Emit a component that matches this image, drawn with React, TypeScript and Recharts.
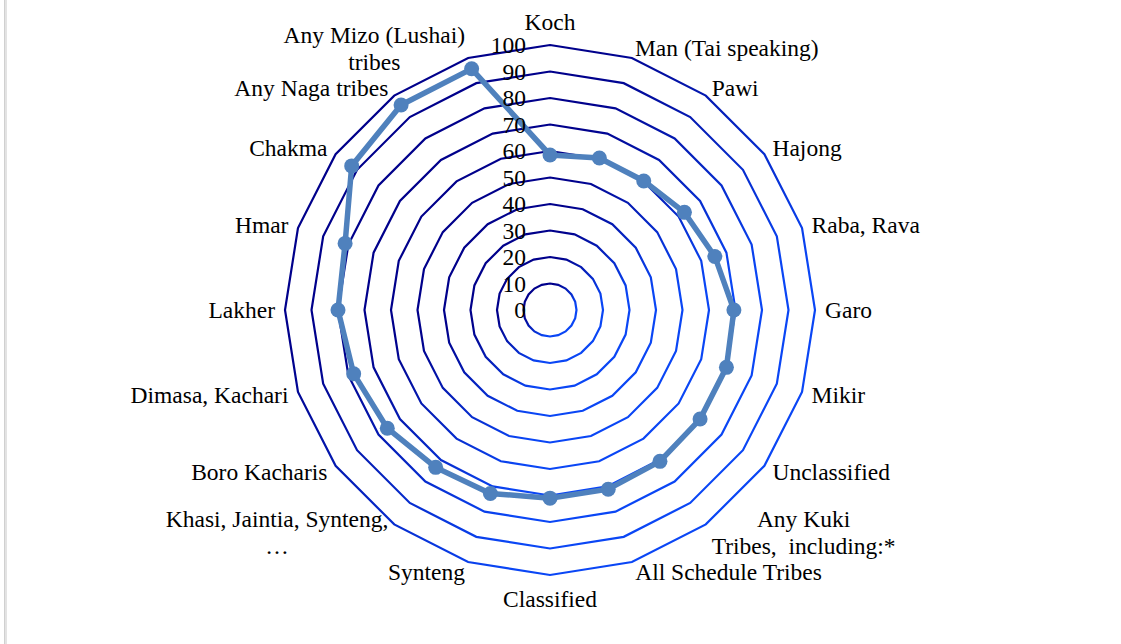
import { RadarChart, Radar, PolarGrid, PolarAngleAxis, PolarRadiusAxis } from "recharts";

const categories = [
  "Koch",
  "Man (Tai speaking)",
  "Pawi",
  "Hajong",
  "Raba, Rava",
  "Garo",
  "Mikir",
  "Unclassified",
  "Any Kuki\nTribes,  including:*",
  "All Schedule Tribes",
  "Classified",
  "Synteng",
  "Khasi, Jaintia, Synteng,\n…",
  "Boro Kacharis",
  "Dimasa, Kachari",
  "Lakher",
  "Hmar",
  "Chakma",
  "Any Naga tribes",
  "Any Mizo (Lushai)\ntribes",
];

const literacy = [
  58.5, 60.3, 60.2, 62.7, 65.4, 69.4, 70, 70, 70.6, 71.1, 71, 72.8, 73.4, 75.9,
  77.9, 80, 81.3, 92.5, 95.6, 95.7,
];

const radiusTicks = [0, 10, 20, 30, 40, 50, 60, 70, 80, 90, 100];

const data = categories.map((c, i) => ({ category: c, value: literacy[i] }));

const CX = 550;
const CY = 310;
const R = 265;
const FONT = "'Times New Roman', 'Liberation Serif', serif";
const FONT_SIZE = 23.5;
const LINE_H = 27;
const SERIES = "#4F81BD";

let ctx: CanvasRenderingContext2D | null = null;
const measure = (s: string) => {
  if (!ctx) {
    ctx = document.createElement("canvas").getContext("2d");
  }
  if (!ctx) return s.length * FONT_SIZE * 0.45;
  ctx.font = `${FONT_SIZE}px ${FONT}`;
  return ctx.measureText(s).width;
};

const AngleTick = (props: any) => {
  const { payload } = props;
  const a = (payload.coordinate * Math.PI) / 180;
  const ux = Math.cos(a);
  const uy = -Math.sin(a);
  const vx = CX + R * ux;
  const vy = CY + R * uy;
  const lines = String(payload.value).split("\n");
  const blockH = lines.length * LINE_H;
  const w = Math.max(...lines.map(measure));
  let centerX = vx;
  let centerY = vy;
  if (Math.abs(ux) < 0.05) {
    centerY = vy + uy * (10 + blockH / 2);
  } else {
    const edge = vx + 10 * ux;
    centerX = ux > 0 ? edge + w / 2 : edge - w / 2;
    centerY = vy + 10 * uy;
  }
  const y0 = centerY - ((lines.length - 1) * LINE_H) / 2;
  return (
    <g>
      {lines.map((l, i) => (
        <text
          key={i}
          x={centerX}
          y={y0 + i * LINE_H}
          textAnchor="middle"
          dominantBaseline="central"
          fontFamily={FONT}
          fontSize={FONT_SIZE}
          fill="#000"
          style={{ whiteSpace: "pre" }}
        >
          {l}
        </text>
      ))}
    </g>
  );
};

const RadiusTick = (props: any) => {
  const { y, payload } = props;
  return (
    <text
      x={CX - 24}
      y={y}
      textAnchor="end"
      dominantBaseline="central"
      fontFamily={FONT}
      fontSize={FONT_SIZE}
      fill="#000"
    >
      {payload.value}
    </text>
  );
};

const SeriesDot = (props: any) => {
  const { cx, cy, index } = props;
  if (cx == null || cy == null) return <g key={index} />;
  return <circle key={index} cx={cx} cy={cy} r={7.5} fill={SERIES} />;
};

const App = () => {
  return (
    <div
      style={{
        position: "absolute",
        left: 0,
        top: 0,
        width: 1121,
        height: 644,
        background: "#fff",
      }}
    >
      <svg width={0} height={0} style={{ position: "absolute" }}>
        <defs>
          <linearGradient id="gridGrad" x1="0" y1="0" x2="1" y2="1">
            <stop offset="0.3" stopColor="#00008B" />
            <stop offset="0.7" stopColor="#0A46F5" />
          </linearGradient>
        </defs>
      </svg>
      <div
        style={{
          position: "absolute",
          left: 4,
          top: 0,
          width: 2,
          height: 644,
          background: "#e3e3e3",
          borderLeft: "1px solid #d0d0d0",
        }}
      />
      <RadarChart
        width={1121}
        height={644}
        data={data}
        cx={CX}
        cy={CY}
        outerRadius={R}
        margin={{ top: 0, right: 0, bottom: 0, left: 0 }}
      >
        <PolarGrid
          gridType="polygon"
          radialLines={false}
          stroke="url(#gridGrad)"
          strokeWidth={2.2}
        />
        <PolarAngleAxis
          dataKey="category"
          tick={AngleTick}
          tickLine={false}
          axisLine={false}
        />
        <PolarRadiusAxis
          angle={90}
          domain={[0, 100]}
          ticks={radiusTicks}
          tickCount={11}
          tick={RadiusTick}
          axisLine={false}
          tickLine={false}
        />
        <Radar
          dataKey="value"
          stroke={SERIES}
          strokeWidth={5.5}
          fill="none"
          fillOpacity={0}
          dot={SeriesDot}
          isAnimationActive={false}
        />
      </RadarChart>
    </div>
  );
};

export default App;
